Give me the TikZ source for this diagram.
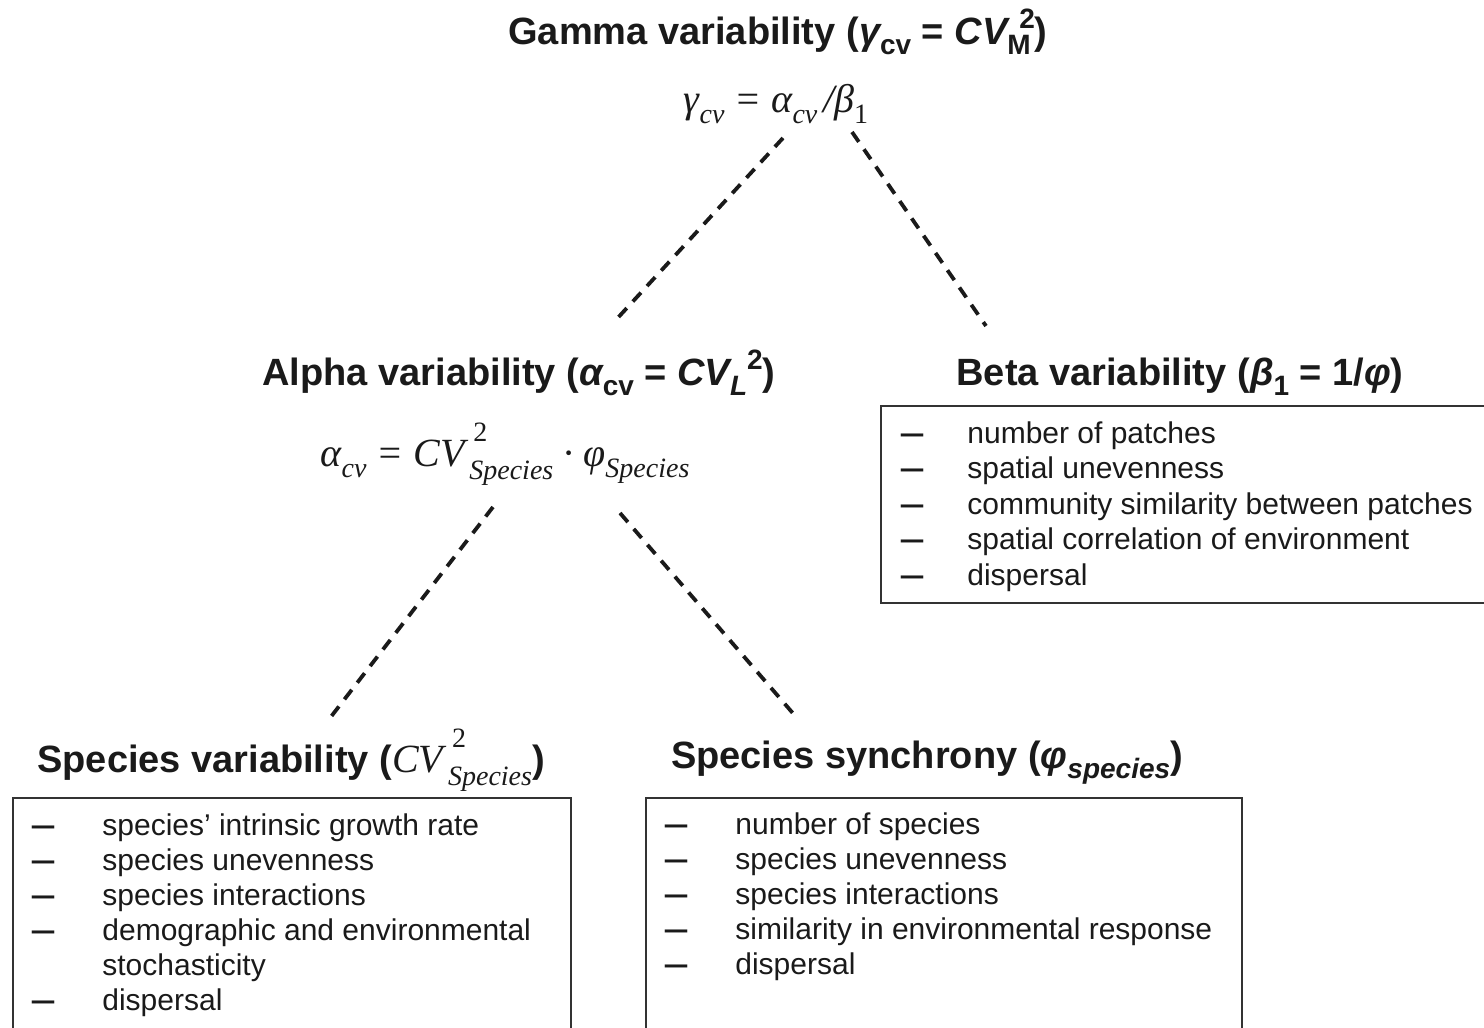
\documentclass[tikz,border=0pt]{standalone}
\usepackage{fontspec}
\usepackage{graphicx}
\setmainfont{Liberation Sans}
\newfontfamily\tms{Liberation Serif}

\definecolor{ink}{HTML}{1A1A1A}
\definecolor{boxline}{HTML}{333333}

% font size helper and sub/superscript helpers
\newcommand\fsz[1]{\fontsize{#1}{#1}\selectfont}
\newcommand\lowr[2][14pt]{\raisebox{-0.28em}{\fsz{#1}#2}}
\newcommand\uppr[2][14pt]{\raisebox{0.40em}{\fsz{#1}#2}}
\newcommand\stk[3][14pt]{\hspace{0.12em}\raisebox{0.62em}{\rlap{\hspace{0.1em}\fsz{#1}#2}}\raisebox{-0.33em}{\fsz{#1}#3}}
\newcommand\dashmk{\scalebox{0.75}[1]{\bfseries —}}

\begin{document}
\begin{tikzpicture}[x=0.5pt,y=-0.5pt,
  title/.style={font=\fsz{19pt}\bfseries, text=ink, inner sep=0pt, anchor=base},
  formula/.style={font=\fsz{20pt}\tms\itshape, text=ink, inner sep=0pt, anchor=base},
  entry/.style={font=\fsz{15pt}, text=ink, inner sep=0pt, anchor=base west},
  bul/.style={font=\fsz{15pt}, text=ink, inner sep=0pt, anchor=base},
  listbox/.style={draw=boxline, line width=1pt},
  link/.style={draw=ink, line width=1.9pt, dash pattern=on 6pt off 4.5pt}]

\useasboundingbox (0,0) rectangle (1484,1028);
\clip (0,0) rectangle (1484,1028);

% ---- gamma level ----
\node[title] (gtitle) at (778,44)
  {Gamma variability ({\itshape γ}\lowr{cv} = {\itshape CV}\lowr{\makebox[6pt][l]{M}}\uppr{2})};
\node[formula] (gform) at (776,112)
  {γ\lowr{cv} = α\lowr{cv}\hspace{0.14em}/β\lowr{\upshape 1}};

% ---- alpha level ----
\node[title] (atitle) at (519,385)
  {Alpha variability ({\itshape α}\lowr{cv} = {\itshape CV}\lowr{\itshape L}\uppr{2})};
\node[formula] (aform) at (505,466)
  {α\lowr{cv} = CV\stk{\upshape 2}{Species} · φ\lowr{Species}};

% ---- beta level ----
\node[title] (btitle) at (1180,385)
  {Beta variability ({\itshape β}\lowr{1} = 1/{\itshape φ})};
\draw[listbox] (881,406) rectangle (1500,603);
\foreach \t [count=\i from 0] in {number of patches, spatial unevenness,
    community similarity between patches, spatial correlation of environment, dispersal}{
  \node[bul] (bd\i) at (912,{443+35.5*\i}) {\dashmk};
  \node[entry] (bt\i) at (967,{443+35.5*\i}) {\t};
}

% ---- species variability ----
\node[title] (svtitle) at (291,772)
  {Species variability ({\tms\mdseries\itshape\fsz{20pt}CV\stk{\upshape 2}{Species}})};
\draw[listbox] (13,798) rectangle (571,1045);
\foreach \t [count=\i from 0] in {species’ intrinsic growth rate, species unevenness,
    species interactions, demographic and environmental}{
  \node[bul] (vd\i) at (43,{835+35*\i}) {\dashmk};
  \node[entry] (vt\i) at (102,{835+35*\i}) {\t};
}
\node[entry] (vt4) at (102,975) {stochasticity};
\node[bul] (vd5) at (43,1010) {\dashmk};
\node[entry] (vt5) at (102,1010) {dispersal};

% ---- species synchrony ----
\node[title] (sstitle) at (927,768)
  {Species synchrony ({\itshape φ}\lowr{\itshape species})};
\draw[listbox] (646,798) rectangle (1242,1045);
\foreach \t [count=\i from 0] in {number of species, species unevenness,
    species interactions, similarity in environmental response, dispersal}{
  \node[bul] (sd\i) at (676,{834+35*\i}) {\dashmk};
  \node[entry] (st\i) at (735,{834+35*\i}) {\t};
}

% ---- dashed links ----
\coordinate (gL) at (783,138);
\coordinate (aTop) at (614,322);
\coordinate (gR) at (852,132);
\coordinate (bTop) at (986,326);
\coordinate (aL) at (493,507);
\coordinate (svTop) at (330,718);
\coordinate (aR) at (620,513);
\coordinate (ssTop) at (797,718);
\draw[link] (gL) -- (aTop);
\draw[link] (gR) -- (bTop);
\draw[link] (aL) -- (svTop);
\draw[link] (aR) -- (ssTop);
\end{tikzpicture}
\end{document}
